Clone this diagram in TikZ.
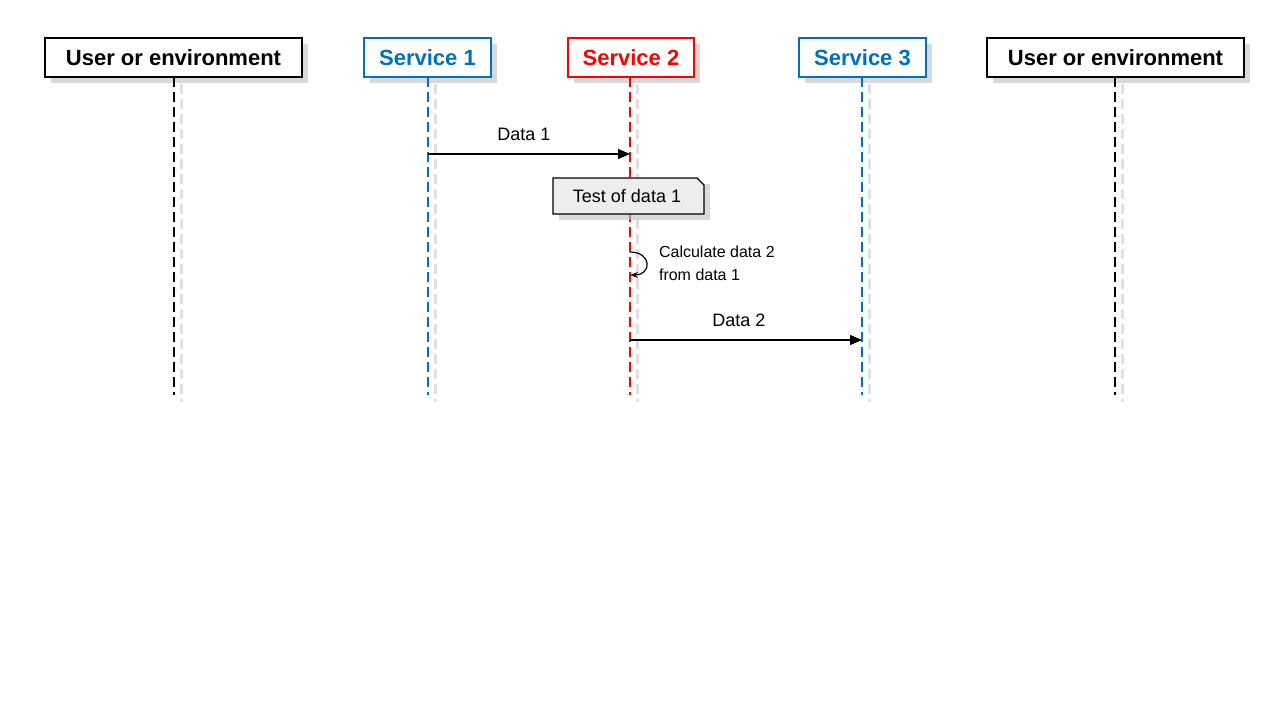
\documentclass[tikz,border=0pt]{standalone}
\usepackage{fontspec}
\setmainfont{Liberation Sans}
\usetikzlibrary{shadows,shapes.misc,arrows.meta}
\definecolor{sblue}{HTML}{0070C0}
\begin{document}
\begin{tikzpicture}[x=0.5pt,y=-0.5pt,
 head/.style={draw=#1,text=#1,line width=1.1pt,fill=white,font=\fontsize{11}{13}\selectfont\bfseries,minimum height=19.5pt,inner sep=0pt,
   drop shadow={shadow xshift=3pt,shadow yshift=-3pt,fill=black!25,opacity=0.6}},
 life/.style={draw=#1,line width=0.7pt,dash pattern=on 5pt off 2.5pt},
 lshadow/.style={draw=black!12,line width=1.5pt,dash pattern=on 5pt off 2.5pt},
 msg/.style={-{Triangle[length=6pt,width=5pt]},line width=0.6pt},
 lbl/.style={font=\fontsize{9}{11}\selectfont}]
\useasboundingbox (0,0) rectangle (1280,720);
\node[head=black,minimum width=128.5pt] (u1) at (173.5,57.5) {User or environment};
\node[head=sblue,minimum width=63.5pt] (s1) at (427.5,57.5) {Service 1};
\node[head=red,minimum width=63pt] (s2) at (631,57.5) {Service 2};
\node[head=sblue,minimum width=63.5pt] (s3) at (862.5,57.5) {Service 3};
\node[head=black,minimum width=128.5pt] (u2) at (1115.5,57.5) {User or environment};
\foreach \n/\x/\c in {a/174/black,b/428/sblue,c/630/red,d/862/sblue,e/1115/black}{
  \draw[lshadow] (\x+7,84) -- (\x+7,402);
  \coordinate (t\n) at (\x,77);
  \coordinate (b\n) at (\x,395);
  \draw[life=\c] (t\n) -- (b\n);
}
\coordinate (m1a) at (428,154); \coordinate (m1b) at (630,154);
\draw[msg] (m1a) -- (m1b);
\node[lbl] (l1) at (524,134) {Data 1};
% note
\fill[black!25,opacity=0.6] (559,184) rectangle (710,220);
\draw[fill=black!7,line width=0.6pt] (553,178) -- (697,178) -- (704,185) -- (704,214) -- (553,214) -- cycle;
\node[lbl] (note) at (627,196) {Test of data 1};
% self loop
\coordinate (la) at (630,252); \coordinate (lb) at (630,275);
\draw[-{Stealth[length=4pt]},line width=0.6pt] (la) .. controls (652,252) and (652,275) .. (lb);
\node[font=\fontsize{8}{11.5}\selectfont,align=left,anchor=west] (calc) at (652,263.5) {Calculate data 2\\from data 1};
\coordinate (m2a) at (630,340); \coordinate (m2b) at (862,340);
\draw[msg] (m2a) -- (m2b);
\node[lbl] (l2) at (739,320) {Data 2};
\end{tikzpicture}
\end{document}
